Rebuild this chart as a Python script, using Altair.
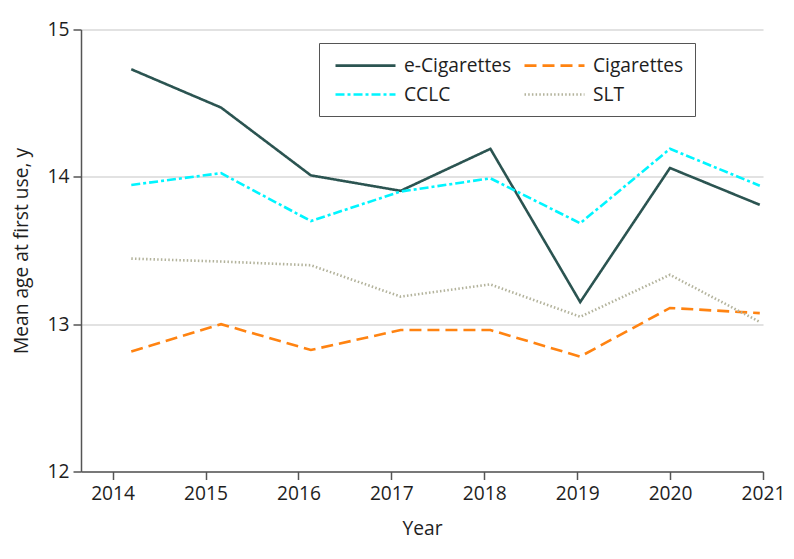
import altair as alt
import pandas as pd

years = [2014, 2015, 2016, 2017, 2018, 2019, 2020, 2021]
series_names = ["e-Cigarettes", "CCLC", "Cigarettes", "SLT"]
e_cigarettes = [14.73, 14.47, 14.01, 13.905, 14.19, 13.15, 14.06, 13.81]
cclc = [13.945, 14.025, 13.70, 13.90, 13.99, 13.685, 14.19, 13.94]
cigarettes = [12.815, 13.0, 12.825, 12.96, 12.96, 12.78, 13.11, 13.075]
slt = [13.445, 13.425, 13.40, 13.187, 13.27, 13.05, 13.335, 13.015]
tick_years = [2014, 2015, 2016, 2017, 2018, 2019, 2020, 2021]
y_ticks = [12, 13, 14, 15]

colors = ["#2b5451", "#00f5ff", "#ff8311", "#b3b39c"]
dashes = [[1, 0], [9, 3, 3, 3], [12, 6], [1.5, 2.2]]

rows = []
for name, vals in zip(series_names, [e_cigarettes, cclc, cigarettes, slt]):
    for yr, v in zip(years, vals):
        rows.append({"year": yr, "value": v, "series": name})
df = pd.DataFrame(rows)
axis_df = pd.DataFrame({"year": tick_years})

FONT = "Open Sans"
FS = 19.2
TXT = "#1e1e1e"


def make_legend():
    return alt.Legend(title=None, orient="none", legendX=238, legendY=13.5,
                      columns=2, symbolType="M-0.6,0H5.4", symbolSize=400,
                      symbolStrokeWidth=2.6, labelFont=FONT, labelFontSize=FS,
                      labelColor=TXT, labelOffset=51, columnPadding=7,
                      rowPadding=7, padding=11, strokeColor="#555555",
                      fillColor="white", labelLimit=300)


lines = alt.Chart(df).mark_line(strokeWidth=2.6, strokeCap="butt").encode(
    x=alt.X("year:Q", scale=alt.Scale(domain=[2013.44, 2021.036], nice=False, zero=False), axis=None),
    y=alt.Y("value:Q", scale=alt.Scale(domain=[12, 15], nice=False, zero=False),
            axis=alt.Axis(values=y_ticks, title="Mean age at first use, y", grid=True,
                          gridColor="#d8d8d8", gridWidth=1.5, domainColor="#555555",
                          domainWidth=1.5, tickColor="#555555", tickWidth=1.5, tickSize=8,
                          labelPadding=4, labelFontSize=FS, labelFont=FONT, labelColor=TXT,
                          titleFont=FONT, titleFontSize=FS, titleFontWeight="normal",
                          titleColor=TXT, titlePadding=16, format="d")),
    color=alt.Color("series:N", scale=alt.Scale(domain=series_names, range=colors),
                    legend=make_legend()),
    strokeDash=alt.StrokeDash("series:N", scale=alt.Scale(domain=series_names, range=dashes),
                              legend=make_legend()),
)

axis_layer = alt.Chart(axis_df).mark_rule(opacity=0).encode(
    x=alt.X("year:Q", scale=alt.Scale(domain=[2013.66, 2021], nice=False, zero=False),
            axis=alt.Axis(values=tick_years, title="Year", format="d", grid=False,
                          domainColor="#555555", domainWidth=1.5, tickColor="#555555",
                          tickWidth=1.5, tickSize=8, labelPadding=5, labelFontSize=FS,
                          labelFont=FONT, labelColor=TXT, labelFlush=False,
                          titleFont=FONT, titleFontSize=FS, titleFontWeight="normal",
                          titleColor=TXT, titlePadding=16)),
)

chart = alt.layer(axis_layer, lines).resolve_scale(x="independent").properties(
    width=682, height=442,
    autosize=alt.AutoSizeParams(type="none"),
    padding={"left": 73, "top": 21.5, "right": 23, "bottom": 70},
).configure_view(stroke=None)

chart.save("out.html", embed_options={"renderer": "svg", "actions": False})
